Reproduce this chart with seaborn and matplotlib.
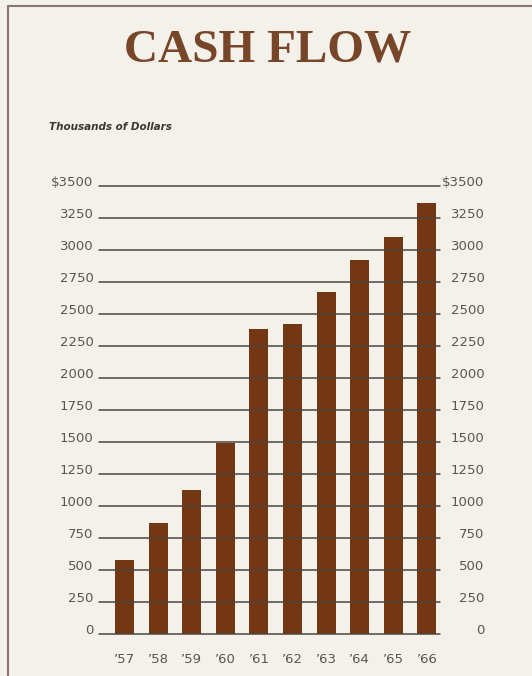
import matplotlib
matplotlib.use("Agg")
import matplotlib.pyplot as plt
import seaborn as sns
import pandas as pd

years = ["’57", "’58", "’59", "’60", "’61", "’62", "’63", "’64", "’65", "’66"]
cash_flow = [580, 864, 1123, 1490, 2385, 2420, 2670, 2920, 3100, 3365]
tick_values = [0, 250, 500, 750, 1000, 1250, 1500, 1750, 2000, 2250, 2500, 2750, 3000, 3250, 3500]
tick_labels = ["0", "250", "500", "750", "1000", "1250", "1500", "1750", "2000",
               "2250", "2500", "2750", "3000", "3250", "$3500"]

BG = "#f4f1ea"
BAR = "#733813"
TITLE = "#774528"
TXT = "#5a5550"
GRID = "#4e4540"

sns.set_theme(style="white")
plt.rcParams["font.family"] = ["DejaVu Sans"]

df = pd.DataFrame({"year": years, "value": cash_flow})

W, H = 532, 676
fig = plt.figure(figsize=(W / 100, H / 100), dpi=100, facecolor=BG)
ax = fig.add_axes([99 / W, 1 - 634 / H, (440 - 99) / W, (634 - 186) / H])
ax.set_facecolor(BG)

sns.barplot(data=df, x="year", y="value", color=BAR, width=0.57,
            saturation=1, linewidth=0, edgecolor=BAR, ax=ax, zorder=1)

ax.set_ylim(0, 3500)
ax.set_xlim(-0.76, 9.39)
for v in tick_values:
    ax.axhline(v, color=GRID, lw=1.1, zorder=3, clip_on=False)

for s in ax.spines.values():
    s.set_visible(False)

ax.set_xlabel("")
ax.set_ylabel("")
ax.set_yticks(tick_values)
ax.set_yticklabels(tick_labels)
ax.tick_params(axis="y", length=0, pad=4, labelsize=9.5, labelcolor=TXT)
for lab in ax.get_yticklabels():
    lab.set_va("baseline")
ax.tick_params(axis="x", length=0, pad=14, labelsize=9.5, labelcolor=TXT)

ax2 = ax.twinx()
ax2.set_ylim(0, 3500)
ax2.set_yticks(tick_values)
ax2.set_yticklabels(tick_labels)
ax2.tick_params(axis="y", length=0, pad=32, labelsize=9.5, labelcolor=TXT)
for lab in ax2.get_yticklabels():
    lab.set_va("baseline")
    lab.set_ha("right")
for s in ax2.spines.values():
    s.set_visible(False)
ax2.grid(False)

fig.text(268 / W, 1 - 50 / H, "CASH FLOW", ha="center", va="center",
         fontsize=34, fontweight="bold", color=TITLE,
         family=["Liberation Serif", "DejaVu Serif"])
fig.text(49 / W, 1 - 127 / H, "Thousands of Dollars", ha="left", va="center",
         fontsize=7.5, fontweight="bold", fontstyle="italic", color="#3a3633")

# frame border
fig.add_artist(plt.Line2D([8 / W, 8 / W], [0, 1 - 6 / H], transform=fig.transFigure,
                          color="#8a7570", lw=1.5))
fig.add_artist(plt.Line2D([8 / W, 1], [1 - 6 / H, 1 - 6 / H], transform=fig.transFigure,
                          color="#8a7570", lw=1.5))

fig.savefig("out.png", dpi=100, facecolor=BG)
